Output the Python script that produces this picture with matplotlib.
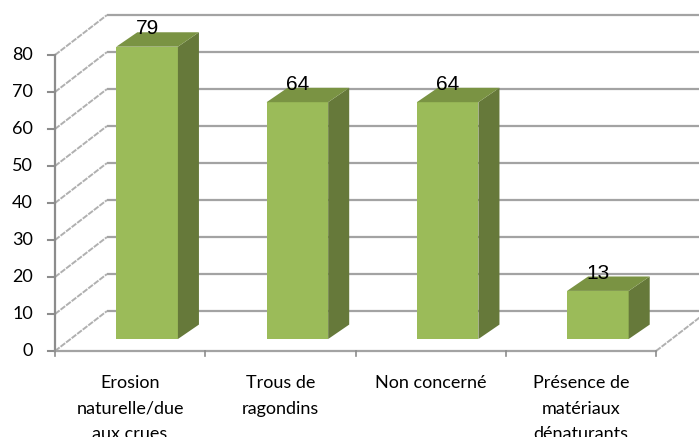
import matplotlib
matplotlib.use("Agg")
import matplotlib.pyplot as plt
from matplotlib.patches import Polygon

# data
categories = ["Erosion\nnaturelle/due\naux crues", "Trous de\nragondins",
              "Non concerné", "Présence de\nmatériaux\ndénaturants"]
values = [79, 64, 64, 13]
yticks = [0, 10, 20, 30, 40, 50, 60, 70, 80]

# pseudo-3D geometry (data units)
DEPTH_X, DEPTH_Y = 0.346, 10.8      # full floor depth
BAR_OFF, BAR_W = 0.113, 0.41        # bar front face shift / width
BAR_BASE = 3.24                     # front face base lifted by depth
BAR_DX, BAR_DY = 0.14, 3.9          # bar depth

FRONT = "#9bbb59"
SIDE = "#66793a"
TOP = "#7a9343"
GRID = "#a3a3a3"
AXIS = "#8c8c8c"
DIAG = "#b0b0b0"

fig = plt.figure(figsize=(6.99, 4.37), dpi=100)
ax = fig.add_axes([0, 0, 1, 1])
ax.set_xlim(-0.866, 3.786)
ax.set_ylim(-23.24, 94.86)
ax.axis("off")

x_left = -0.5
x_right = len(categories) - 0.5

# back wall gridlines and side-wall diagonals
for t in yticks:
    ax.plot([x_left + DEPTH_X, 4.0], [t + DEPTH_Y, t + DEPTH_Y],
            color=GRID, lw=1.6, zorder=1, solid_capstyle="butt")
    ax.plot([x_left, x_left + DEPTH_X], [t, t + DEPTH_Y],
            color=DIAG, lw=1.4, ls=(0, (3, 0.6)), zorder=1)
    ax.plot([x_left - 0.045, x_left], [t, t], color=AXIS, lw=1.5, zorder=3)
    ax.text(x_left - 0.147, t, str(t), ha="right", va="center",
            fontsize=13, family="Lato", color="black")

# front axes
ax.plot([x_left, x_left], [0, yticks[-1]], color=AXIS, lw=1.6, zorder=3)
ax.plot([x_left, x_right], [0, 0], color=GRID, lw=1.6, zorder=3)
ax.plot([x_right, x_right + DEPTH_X], [0, DEPTH_Y],
        color=DIAG, lw=1.4, ls=(0, (3, 0.6)), zorder=3)
for i in range(len(categories) + 1):
    xb = x_left + i
    ax.plot([xb, xb], [0, -1.4], color=AXIS, lw=1.2, zorder=3)

# bars
xs = [i + BAR_OFF for i in range(len(values))]
ax.bar(xs, values, width=BAR_W, bottom=BAR_BASE, color=FRONT,
       edgecolor="none", zorder=5)
for x, v in zip(xs, values):
    r = x + BAR_W / 2
    l = x - BAR_W / 2
    top = BAR_BASE + v
    side = Polygon([(r, BAR_BASE), (r + BAR_DX, BAR_BASE + BAR_DY),
                    (r + BAR_DX, top + BAR_DY), (r, top)],
                   closed=True, facecolor=SIDE, edgecolor="none", zorder=5)
    cap = Polygon([(l, top), (r, top), (r + BAR_DX, top + BAR_DY),
                   (l + BAR_DX, top + BAR_DY)],
                  closed=True, facecolor=TOP, edgecolor="none", zorder=5)
    ax.add_patch(side)
    ax.add_patch(cap)
    ax.text(x, top + 3.3, str(v), ha="center", va="baseline",
            fontsize=15, family="Liberation Sans", color="black", zorder=6)

# category labels
for i, c in enumerate(categories):
    ax.text(i, -6.6, c, ha="center", va="top", fontsize=13,
            family="Lato", linespacing=1.72, color="black")

fig.savefig("out.png", dpi=100)
